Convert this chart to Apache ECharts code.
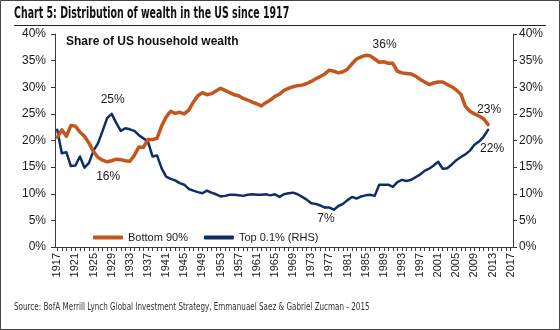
<!DOCTYPE html>
<html>
<head>
<meta charset="utf-8">
<script src="https://cdn.jsdelivr.net/npm/echarts@6/dist/echarts.min.js"></script>
<style>
  html, body { margin: 0; padding: 0; background: #fff; }
  #chart { width: 560px; height: 330px; }
</style>
</head>
<body>
<div id="chart"></div>
<script>
// Year categories on the x axis (data runs 1917-2012, axis runs to 2017)
const firstYear = 1917;
const lastAxisYear = 2017;
const years = [];
for (let y = firstYear; y <= lastAxisYear; y++) years.push(String(y));

// Share of US household wealth held by the bottom 90% (%), 1917-2012
const bottom90 = [
  20.6, 22.0, 20.8, 22.8, 22.7, 21.6, 20.8, 19.5, 17.9, 16.8,   // 1917-1926
  16.3, 16.0, 16.2, 16.5, 16.4, 16.2, 16.1, 17.2, 18.8, 18.7,   // 1927-1936
  20.2, 20.2, 20.4, 22.7, 24.4, 25.5, 25.1, 25.3, 25.0, 25.7,   // 1937-1946
  27.2, 28.4, 29.0, 28.6, 28.8, 29.3, 29.8, 29.4, 29.0, 28.6,   // 1947-1956
  28.4, 27.9, 27.6, 27.2, 26.9, 26.5, 27.1, 27.6, 28.3, 28.7,   // 1957-1966
  29.4, 29.8, 30.1, 30.3, 30.4, 30.7, 31.1, 31.6, 32.0, 32.5,   // 1967-1976
  33.2, 33.0, 32.7, 32.9, 33.4, 34.4, 35.3, 35.7, 36.0, 35.9,   // 1977-1986
  35.3, 34.7, 34.8, 34.5, 34.5, 33.0, 32.7, 32.6, 32.5, 32.1,   // 1987-1996
  31.5, 31.0, 30.5, 30.8, 31.0, 31.0, 30.5, 30.1, 29.5, 28.7,   // 1997-2006
  26.4, 25.5, 25.0, 24.6, 24.1, 23.0                            // 2007-2012
];

// Share of US household wealth held by the top 0.1% (%), 1917-2012, right axis
const top01 = [
  22.0, 17.6, 17.8, 15.2, 15.3, 17.0, 14.9, 15.8, 18.1, 19.5,   // 1917-1926
  21.8, 24.2, 25.0, 23.3, 21.8, 22.3, 22.1, 21.8, 21.0, 20.4,   // 1927-1936
  19.8, 17.0, 17.2, 14.8, 13.2, 12.8, 12.5, 12.0, 11.7, 10.9,   // 1937-1946
  10.6, 10.3, 10.1, 10.6, 10.2,  9.9,  9.5,  9.6,  9.8,  9.8,   // 1947-1956
   9.7,  9.6,  9.8,  9.9,  9.8,  9.8,  9.9,  9.7,  9.9,  9.4,   // 1957-1966
   9.9, 10.1, 10.2,  9.9,  9.4,  8.9,  8.2,  8.1,  7.8,  7.4,   // 1967-1976
   7.4,  7.0,  7.7,  8.1,  8.8,  9.4,  9.1,  9.5,  9.7,  9.8,   // 1977-1986
   9.6, 11.7, 11.7, 11.7, 11.3, 12.2, 12.6, 12.4, 12.6, 13.1,   // 1987-1996
  13.6, 14.3, 14.7, 15.3, 16.0, 14.7, 14.8, 15.5, 16.3, 16.9,   // 1997-2006
  17.4, 18.1, 19.2, 19.8, 20.7, 22.0                            // 2007-2012
];

// Percent tick labels shared by both y axes
const yTickLabels = ['0%', '5%', '10%', '15%', '20%', '25%', '30%', '35%', '40%'];

const seriesNames = ['Bottom 90%', 'Top 0.1% (RHS)'];

// Value call-outs on selected years
const callouts = [
  { values: top01,    axis: 1, year: 1929, position: 'top',    distance: 6,  dx: 1 },
  { values: bottom90, axis: 0, year: 1928, position: 'bottom', distance: 7,  dx: 1 },
  { values: bottom90, axis: 0, year: 1985, position: 'top',    distance: 3,  dx: 19 },
  { values: top01,    axis: 1, year: 1978, position: 'bottom', distance: 1,  dx: -8 },
  { values: bottom90, axis: 0, year: 2012, position: 'top',    distance: 7,  dx: 1 },
  { values: top01,    axis: 1, year: 2012, position: 'bottom', distance: 11, dx: 4 }
];

const ORANGE = '#C2561D';
const NAVY = '#0E2D6B';
const AXIS = '#3a3a3a';
const TEXT = '#1a1a1a';
const FONT = '"Liberation Sans", Arial, sans-serif';
const NARROW = '"Liberation Sans Narrow", "DejaVu Sans Condensed", sans-serif';

// One invisible point per call-out, carrying the value label
function calloutSeries(axisIndex) {
  return {
    type: 'scatter',
    yAxisIndex: axisIndex,
    symbol: 'circle',
    symbolSize: 4,
    itemStyle: { color: 'rgba(255,255,255,0)', opacity: 1 },
    emphasis: { disabled: true },
    silent: true,
    z: 5,
    data: callouts.filter(c => c.axis === axisIndex).map(c => ({
      value: [String(c.year), c.values[c.year - firstYear]],
      label: {
        show: true,
        position: c.position,
        distance: c.distance,
        offset: [c.dx, 0],
        color: TEXT,
        opacity: 1,
        textBorderWidth: 0,
        fontFamily: FONT,
        fontSize: 12,
        formatter: p => Math.round(p.value[1]) + '%'
      }
    }))
  };
}

const yAxisCommon = {
  type: 'value',
  min: 0,
  max: 40,
  interval: 5,
  splitLine: { show: false },
  axisLine: { show: true, lineStyle: { color: AXIS, width: 1 } },
  axisTick: { show: true, length: 4, lineStyle: { color: AXIS } },
  axisLabel: {
    color: TEXT,
    fontFamily: FONT,
    fontSize: 12,
    formatter: v => yTickLabels[Math.round(v / 5)]
  }
};

const chart = echarts.init(document.getElementById('chart'), null, { renderer: 'canvas' });

chart.setOption({
  animation: false,
  backgroundColor: '#fff',
  grid: { left: 55, right: 47, top: 34, bottom: 83, containLabel: false },
  xAxis: {
    type: 'category',
    data: years,
    boundaryGap: true,
    axisLine: { lineStyle: { color: AXIS, width: 1 } },
    axisTick: { show: true, interval: 0, alignWithLabel: true, length: 4, lineStyle: { color: AXIS } },
    axisLabel: {
      interval: 3,
      rotate: 90,
      margin: 6,
      color: TEXT,
      fontFamily: FONT,
      fontSize: 11
    }
  },
  yAxis: [
    Object.assign({}, yAxisCommon, { position: 'left', axisLabel: Object.assign({}, yAxisCommon.axisLabel, { margin: 9 }) }),
    Object.assign({}, yAxisCommon, { position: 'right', axisLabel: Object.assign({}, yAxisCommon.axisLabel, { margin: 6 }) })
  ],
  legend: {
    data: [
      { name: seriesNames[0], icon: 'roundRect', itemStyle: { color: ORANGE } },
      { name: seriesNames[1], icon: 'roundRect', itemStyle: { color: NAVY } }
    ],
    left: 93,
    top: 232,
    padding: 0,
    itemWidth: 30,
    itemHeight: 4,
    itemGap: 16,
    textStyle: { color: TEXT, fontFamily: FONT, fontSize: 11 }
  },
  series: [
    {
      name: seriesNames[0],
      type: 'line',
      yAxisIndex: 0,
      data: bottom90,
      symbol: 'none',
      lineStyle: { color: ORANGE, width: 3.5, cap: 'round', join: 'round' },
      itemStyle: { color: ORANGE },
      emphasis: { disabled: true },
      z: 3
    },
    {
      name: seriesNames[1],
      type: 'line',
      yAxisIndex: 1,
      data: top01,
      symbol: 'none',
      lineStyle: { color: NAVY, width: 2.5, cap: 'round', join: 'round' },
      itemStyle: { color: NAVY },
      emphasis: { disabled: true },
      z: 2
    },
    calloutSeries(0),
    calloutSeries(1)
  ],
  graphic: [
    { type: 'rect', shape: { x: 0.5, y: 0.5, width: 559, height: 329 }, style: { fill: 'none', stroke: '#444', lineWidth: 1 }, silent: true },
    { type: 'text', x: 14, y: 7, scaleX: 0.70, style: { text: 'Chart 5: Distribution of wealth in the US since 1917', font: 'bold 15px ' + NARROW, fill: '#111' } },
    { type: 'line', shape: { x1: 14, y1: 25.5, x2: 546, y2: 25.5 }, style: { stroke: '#222', lineWidth: 1 } },
    { type: 'text', x: 66, y: 36, style: { text: 'Share of US household wealth', font: 'bold 12px ' + FONT, fill: '#111' } },
    { type: 'text', x: 14, y: 302, scaleX: 0.80, style: { text: 'Source: BofA Merrill Lynch Global Investment Strategy, Emmanuael Saez & Gabriel Zucman - 2015', font: '10px ' + NARROW, fill: '#333' } }
  ]
});
</script>
</body>
</html>
